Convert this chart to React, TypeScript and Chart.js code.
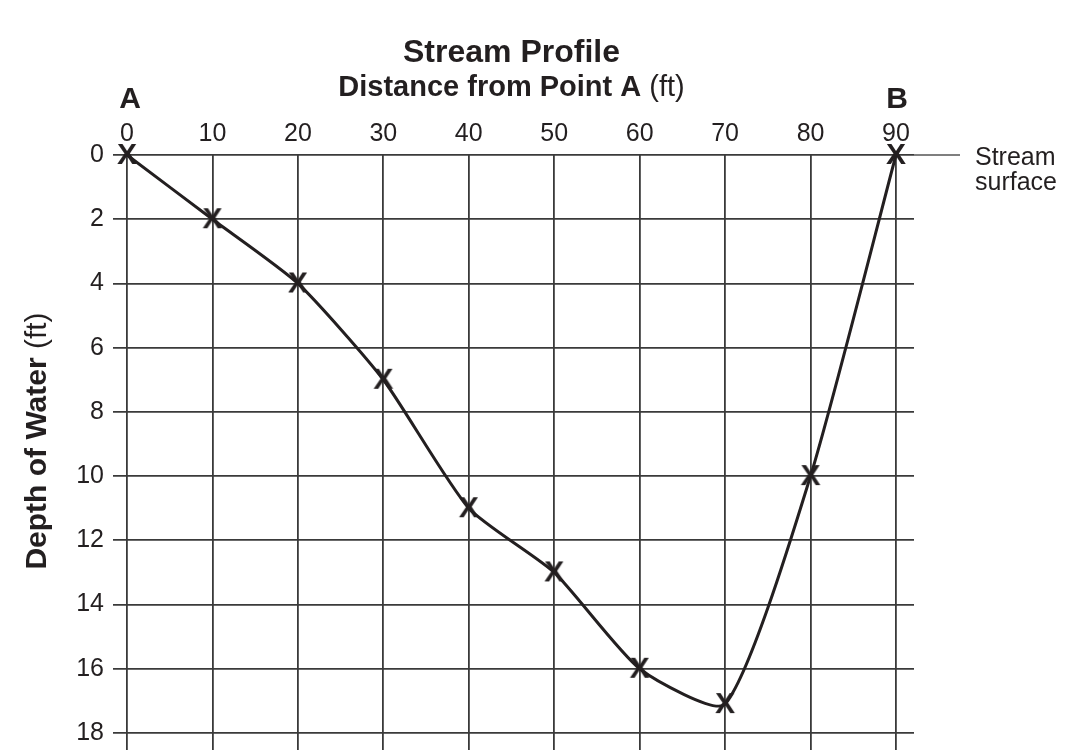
import React, { useEffect, useRef } from 'react';
import { Chart, registerables } from 'chart.js';

Chart.register(...registerables);

// ---- data ----
const distances = [0, 10, 20, 30, 40, 50, 60, 70, 80, 90];
const depths = [0, 2, 4, 7, 11, 13, 16, 17.1, 10, 0];
const xTickValues = [0, 10, 20, 30, 40, 50, 60, 70, 80, 90];
const yTickValues = [0, 2, 4, 6, 8, 10, 12, 14, 16, 18];
const chartTitle = 'Stream Profile';
const xTitleBold = 'Distance from Point A';
const xTitleUnit = ' (ft)';
const yTitleBold = 'Depth of Water';
const yTitleUnit = ' (ft)';
const startLabel = 'A';
const endLabel = 'B';
const surfaceLabel = ['Stream', 'surface'];

const FONT = '"Liberation Sans", Arial, Helvetica, sans-serif';
const INK = '#231f20';

function makeMarker(): HTMLCanvasElement {
  const c = document.createElement('canvas');
  c.width = 26;
  c.height = 28;
  const g = c.getContext('2d')!;
  g.fillStyle = INK;
  g.font = `bold 30px ${FONT}`;
  g.textAlign = 'center';
  g.textBaseline = 'middle';
  g.fillText('X', 13, 15);
  return c;
}

function drawMixed(ctx: CanvasRenderingContext2D, bold: string, normal: string, cx: number, cy: number, size: number) {
  ctx.font = `bold ${size}px ${FONT}`;
  const wb = ctx.measureText(bold).width;
  ctx.font = `${size}px ${FONT}`;
  const wn = ctx.measureText(normal).width;
  const start = cx - (wb + wn) / 2;
  ctx.textAlign = 'left';
  ctx.textBaseline = 'middle';
  ctx.font = `bold ${size}px ${FONT}`;
  ctx.fillText(bold, start, cy);
  ctx.font = `${size}px ${FONT}`;
  ctx.fillText(normal, start + wb, cy);
}

const decorPlugin = {
  id: 'decor',
  afterDraw(chart: any) {
    const ctx: CanvasRenderingContext2D = chart.ctx;
    const xs = chart.scales.x;
    const ys = chart.scales.y;
    const area = chart.chartArea;
    const x0 = xs.getPixelForValue(xTickValues[0]);
    const x1 = xs.getPixelForValue(xTickValues[xTickValues.length - 1]);
    const y0 = ys.getPixelForValue(0);
    const cx = (x0 + x1) / 2;
    ctx.save();
    ctx.fillStyle = INK;

    // surface line extension
    ctx.strokeStyle = '#555';
    ctx.lineWidth = 1.5;
    ctx.beginPath();
    ctx.moveTo(area.right, y0);
    ctx.lineTo(960, y0);
    ctx.stroke();

    // title
    ctx.font = `bold 32px ${FONT}`;
    ctx.textAlign = 'center';
    ctx.textBaseline = 'middle';
    ctx.fillText(chartTitle, cx, 53);

    // x axis title
    drawMixed(ctx, xTitleBold, xTitleUnit, cx, 88, 29);

    // A / B
    ctx.font = `bold 30px ${FONT}`;
    ctx.textAlign = 'center';
    ctx.textBaseline = 'middle';
    ctx.fillText(startLabel, x0 + 3, 100);
    ctx.fillText(endLabel, x1 + 1, 100);

    // y axis title
    ctx.save();
    ctx.translate(38, 441);
    ctx.rotate(-Math.PI / 2);
    drawMixed(ctx, yTitleBold, yTitleUnit, 0, 0, 30);
    ctx.restore();

    // stream surface label
    ctx.font = `25px ${FONT}`;
    ctx.textAlign = 'left';
    ctx.textBaseline = 'middle';
    ctx.fillText(surfaceLabel[0], 975, 158);
    ctx.fillText(surfaceLabel[1], 975, 183);
    ctx.restore();
  },
};

export default function App() {
  const ref = useRef<HTMLCanvasElement | null>(null);

  useEffect(() => {
    document.body.style.margin = '0';
    const canvas = ref.current;
    if (!canvas) return;
    const marker = makeMarker();
    const chart = new Chart(canvas, {
      type: 'line',
      data: {
        datasets: [
          {
            data: distances.map((d, i) => ({ x: d, y: depths[i] })),
            borderColor: INK,
            borderWidth: 3,
            tension: 0.2,
            pointStyle: marker as any,
            pointRadius: 10,
            pointHoverRadius: 10,
            clip: false as any,
            fill: false,
          },
        ],
      },
      options: {
        animation: false,
        responsive: true,
        maintainAspectRatio: false,
        layout: { autoPadding: false, padding: { left: 53, top: 115, right: 151, bottom: 0 } },
        plugins: {
          legend: { display: false },
          title: { display: false },
          tooltip: { enabled: false },
        },
        events: [],
        scales: {
          x: {
            type: 'linear',
            position: 'top',
            min: -1.64,
            max: 92.11,
            afterBuildTicks: (s: any) => {
              s.ticks = xTickValues.map((v) => ({ value: v }));
            },
            afterFit: (s: any) => {
              s.height = 40;
              s.paddingLeft = 0;
              s.paddingRight = 0;
              s.paddingTop = 0;
              s.paddingBottom = 0;
            },
            border: { display: false },
            grid: { color: '#3a3a3a', lineWidth: 1.8, drawTicks: false },
            ticks: {
              color: INK,
              padding: 6,
              maxRotation: 0,
              autoSkip: false,
              font: { family: FONT, size: 25 },
            },
          },
          y: {
            type: 'linear',
            position: 'left',
            reverse: true,
            min: 0,
            max: 18.53,
            afterBuildTicks: (s: any) => {
              s.ticks = yTickValues.map((v) => ({ value: v }));
            },
            afterFit: (s: any) => {
              s.width = 60;
              s.paddingLeft = 0;
              s.paddingRight = 0;
              s.paddingTop = 0;
              s.paddingBottom = 0;
            },
            border: { display: false },
            grid: { color: '#3a3a3a', lineWidth: 1.8, drawTicks: false },
            ticks: {
              color: INK,
              padding: 9,
              autoSkip: false,
              font: { family: FONT, size: 25 },
            },
          },
        },
      },
      plugins: [decorPlugin],
    });
    return () => chart.destroy();
  }, []);

  return (
    <div style={{ position: 'relative', width: 1065, height: 750 }}>
      <canvas ref={ref} />
    </div>
  );
}
